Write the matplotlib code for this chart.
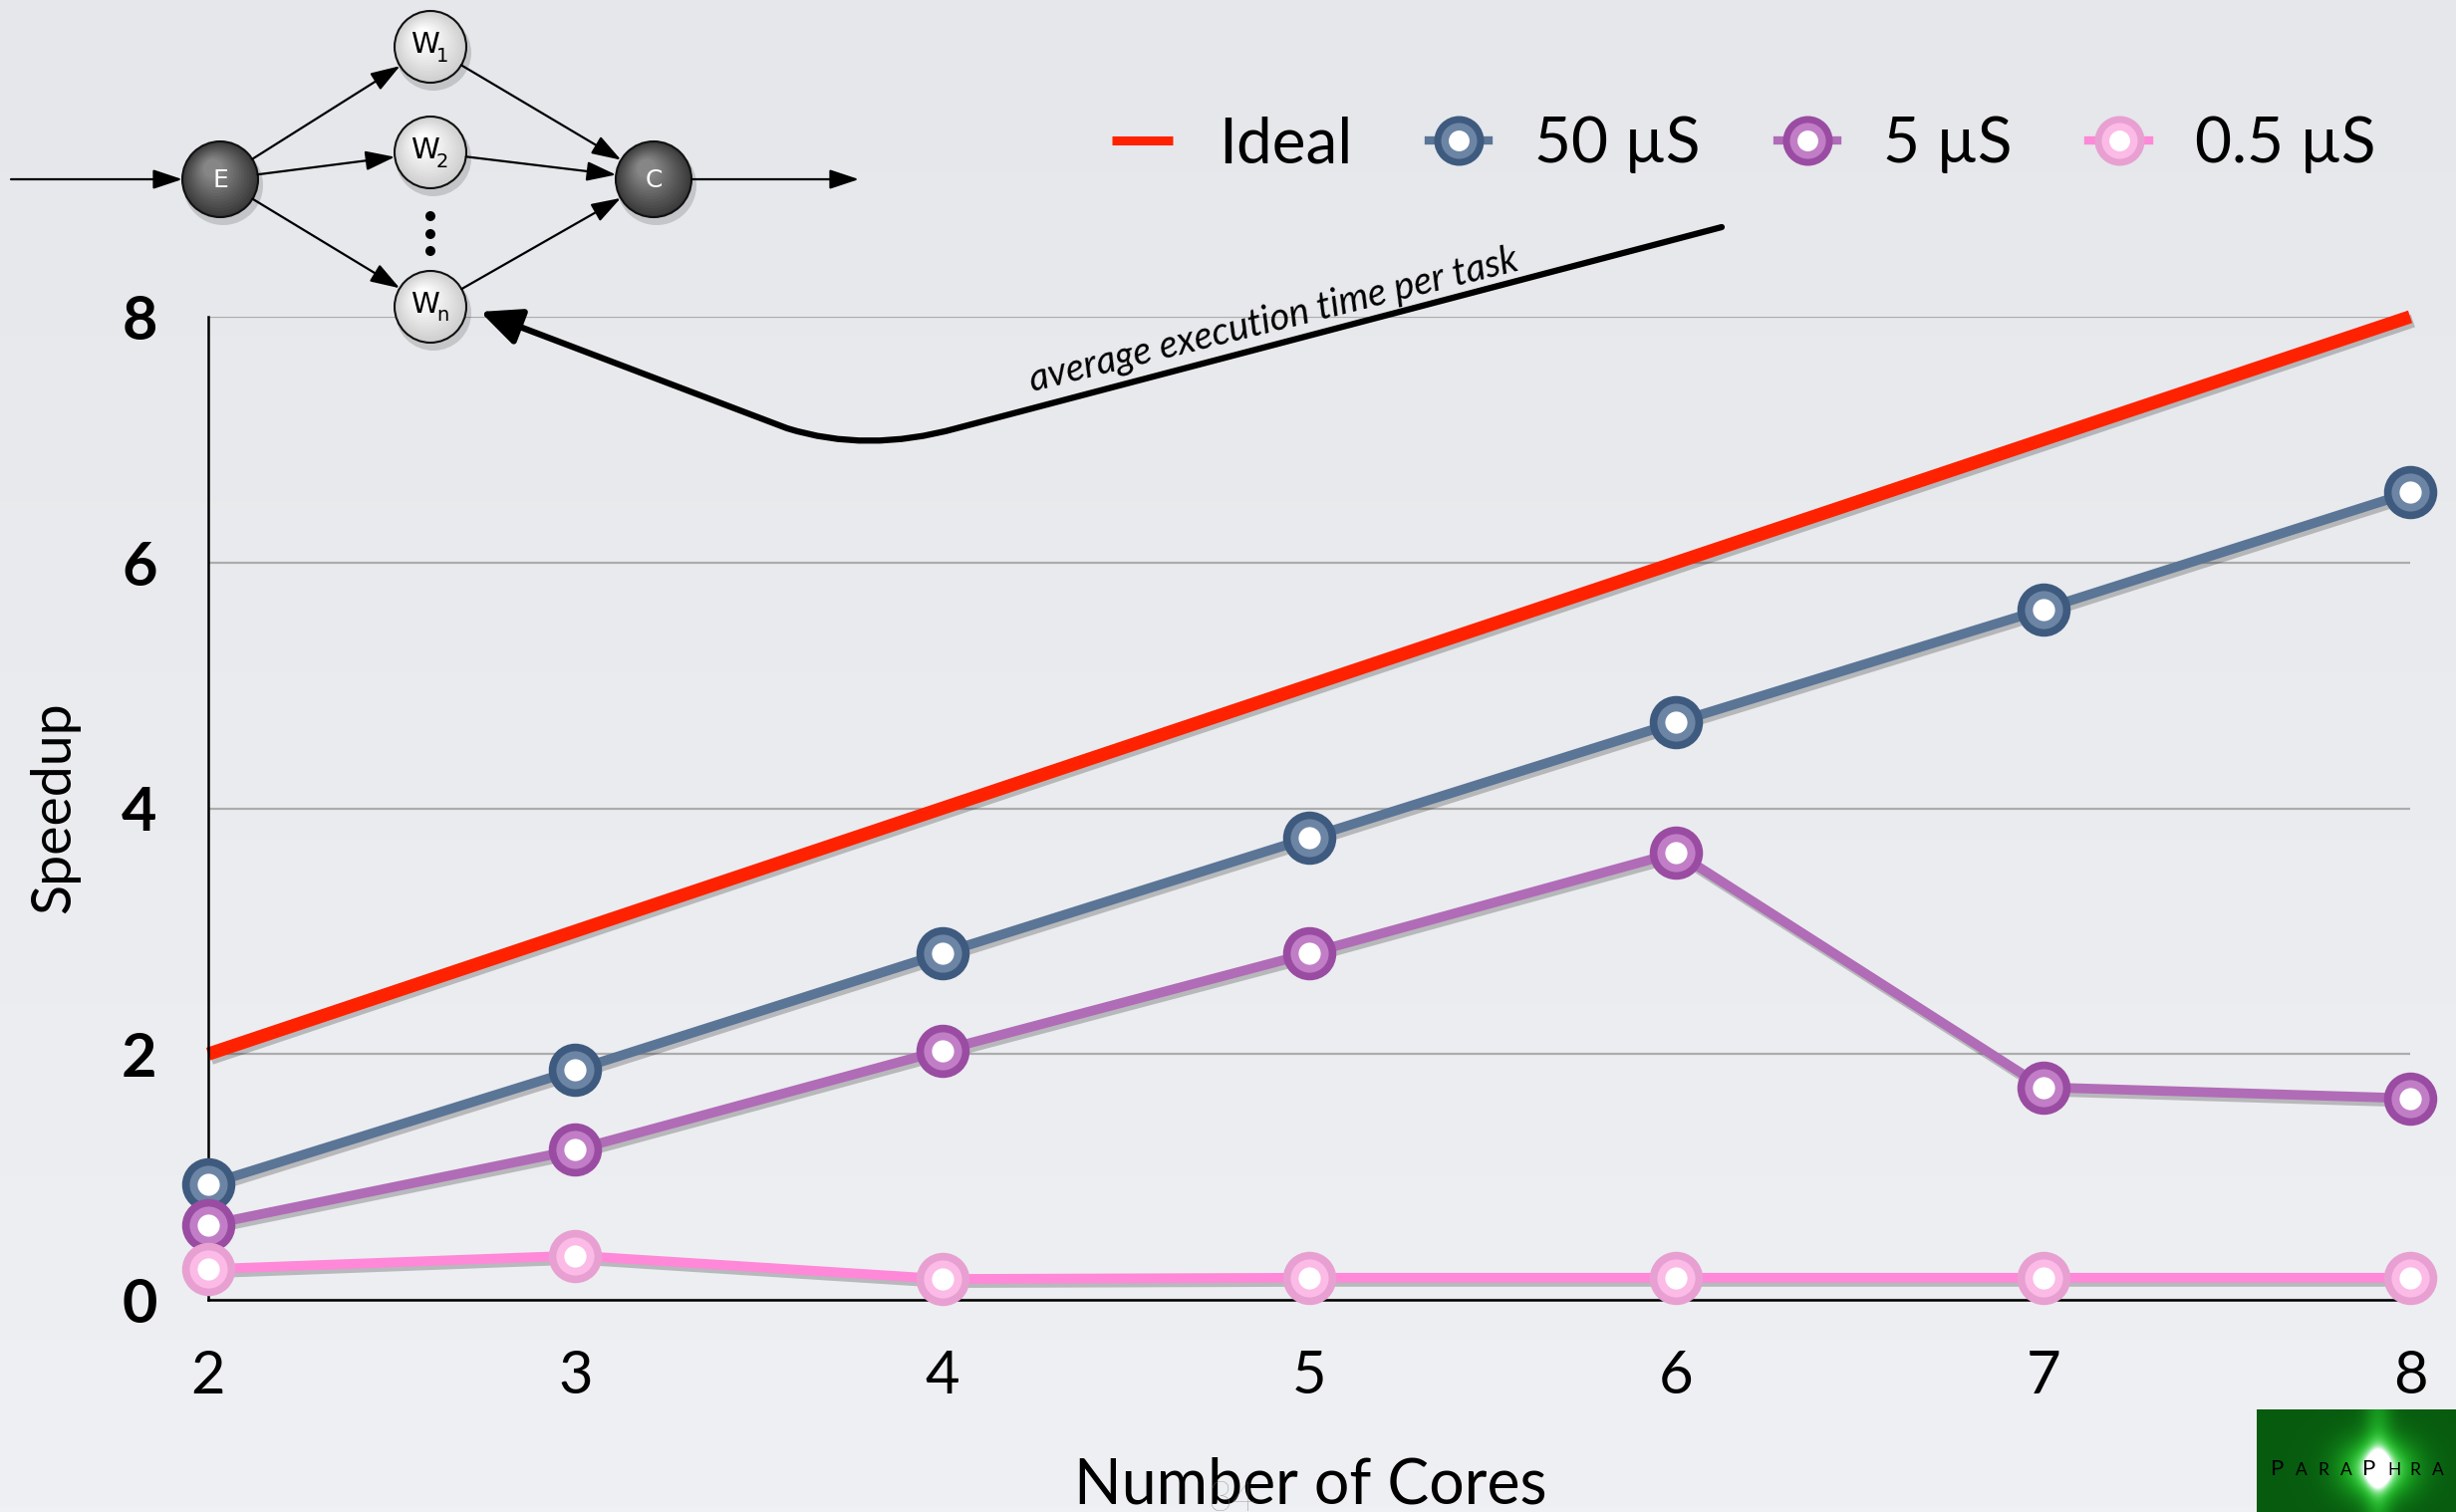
import numpy as np
import matplotlib
matplotlib.use('Agg')
import matplotlib.pyplot as plt
import matplotlib.patheffects as pe
from matplotlib.lines import Line2D
from matplotlib.legend_handler import HandlerTuple
from matplotlib.patches import Circle, FancyArrowPatch, ArrowStyle
from matplotlib.path import Path
from matplotlib.colors import LinearSegmentedColormap

plt.rcParams['font.family'] = ['Lato', 'DejaVu Sans']

# speedup measured for each task grain
cores = [2, 3, 4, 5, 6, 7, 8]
ideal = [2, 3, 4, 5, 6, 7, 8]
speedup_50us = [0.94, 1.87, 2.82, 3.76, 4.70, 5.62, 6.57]
speedup_5us = [0.61, 1.22, 2.03, 2.82, 3.64, 1.73, 1.64]
speedup_05us = [0.25, 0.36, 0.17, 0.18, 0.18, 0.18, 0.18]
series_labels = ['Ideal', '50 µS', '5 µS', '0.5 µS']
x_ticks = [2, 3, 4, 5, 6, 7, 8]
y_ticks = [0, 2, 4, 6, 8]

# line colour, ring colour, marker fill
styles = {
    '50 µS': ('#5a7596', '#3e5a7f', '#6c85a5'),
    '5 µS': ('#b06cb6', '#9a4ca2', '#c17ec6'),
    '0.5 µS': ('#ff88d8', '#e7a0d1', '#fbbbe6'),
}

W, H = 2465, 1518
fig = plt.figure(figsize=(W / 100, H / 100), dpi=100)

# slide background
ax_bg = fig.add_axes([0, 0, 1, 1], zorder=-10)
grad = np.linspace(0, 1, 256).reshape(-1, 1)
bg_cmap = LinearSegmentedColormap.from_list('bg', ['#e5e7ea', '#eff0f3'])
ax_bg.imshow(grad, aspect='auto', cmap=bg_cmap, extent=[0, 1, 0, 1])
ax_bg.axis('off')

# main chart
ax = fig.add_axes([209 / W, 1 - 1305 / H, (2419 - 209) / W, (1305 - 318) / H], zorder=1)
ax.set_facecolor('none')
ax.set_xlim(2, 8)
ax.set_ylim(0, 8)
for s in ['top', 'right']:
    ax.spines[s].set_visible(False)
for s in ['left', 'bottom']:
    ax.spines[s].set_linewidth(1.8)
    ax.spines[s].set_color('black')
ax.yaxis.grid(True, color='#acacac', lw=1.6)
ax.set_axisbelow(True)
ax.set_xticks(x_ticks, labels=[str(v) for v in x_ticks], fontsize=43)
ax.set_yticks(y_ticks, labels=[str(v) for v in y_ticks], fontsize=44, fontweight='bold')
ax.tick_params(length=0)
ax.tick_params(axis='x', pad=36)
ax.tick_params(axis='y', pad=37)

shadow = [pe.SimpleLineShadow(offset=(2, -3), alpha=0.22, shadow_color='k'), pe.Normal()]

ax.plot(cores, ideal, color='#ff2200', lw=9.5, solid_capstyle='butt',
        clip_on=False, zorder=2, path_effects=shadow)

series = [speedup_50us, speedup_5us, speedup_05us]
for i, (name, vals) in enumerate(zip(series_labels[1:], series)):
    line_c, ring_c, face_c = styles[name]
    z = 3 + i
    ax.plot(cores, vals, color=line_c, lw=7, solid_joinstyle='round',
            clip_on=False, zorder=z, path_effects=shadow)
    ax.plot(cores, vals, ls='none', marker='o', ms=33, mfc=face_c, mec=ring_c,
            mew=5.5, clip_on=False, zorder=z + 0.1)
    ax.plot(cores, vals, ls='none', marker='o', ms=16, mfc='white', mec='none',
            clip_on=False, zorder=z + 0.2)

# legend
handles = [Line2D([], [], color='#ff2200', lw=6.5, solid_capstyle='butt')]
for name in series_labels[1:]:
    line_c, ring_c, face_c = styles[name]
    ring = Line2D([], [], color=line_c, lw=6, marker='o', ms=31, mfc=face_c,
                  mec=ring_c, mew=5)
    dot = Line2D([], [], ls='none', marker='o', ms=15, mfc='white', mec='none')
    handles.append((ring, dot))
fig.legend(handles, series_labels, handler_map={tuple: HandlerTuple(ndivide=1)},
           ncol=4, loc='center left', bbox_to_anchor=(1116 / W, 1 - 145 / H),
           frameon=False, prop={'family': 'Lato', 'size': 46}, handlelength=0.95,
           handletextpad=0.72, columnspacing=1.2, borderpad=0, borderaxespad=0)

fig.text(55 / W, 1 - 811 / H, 'Speedup', rotation=90, ha='center', va='center', fontsize=40)
fig.text(1315 / W, 1 - 1509 / H, 'Number of Cores', ha='center', va='baseline', fontsize=45)
fig.text(1237 / W, 1 - 1487 / H, '34', ha='center', va='top', fontsize=30,
         color='#777777', alpha=0.8, fontweight='light', zorder=8)

# farm diagram and annotation, drawn in pixel coordinates
ax_d = fig.add_axes([0, 0, 1, 1], zorder=5)
ax_d.set_xlim(0, W)
ax_d.set_ylim(H, 0)
ax_d.axis('off')
ax_d.set_facecolor('none')

nodes = {'E': (221, 180, 38), 'W1': (432, 47, 36), 'W2': (432, 153, 36),
         'Wn': (432, 308, 36), 'C': (656, 180, 38)}
narrow = ['Liberation Sans Narrow', 'DejaVu Sans']


def shaded_node(x, y, r, base, light):
    ax_d.add_patch(Circle((x + 3, y + 6), r + 2, color='k', alpha=0.15, lw=0))
    c0 = np.array(matplotlib.colors.to_rgb(base))
    c1 = np.array(matplotlib.colors.to_rgb(light))
    n = 14
    for k in range(n):
        f = k / n
        ax_d.add_patch(Circle((x - 0.2 * r * f, y - 0.3 * r * f), r * (1 - 0.8 * f),
                              color=c0 + (c1 - c0) * f, lw=0))
    ax_d.add_patch(Circle((x, y), r, fill=False, ec='#111111', lw=1.5))


def edge(p0, p1, r0=0.0, r1=0.0):
    p0 = np.array(p0, float)
    p1 = np.array(p1, float)
    u = (p1 - p0) / np.hypot(*(p1 - p0))
    ax_d.annotate('', xy=p1 - u * r1, xytext=p0 + u * r0,
                  arrowprops=dict(arrowstyle='-|>,head_length=0.9,head_width=0.3',
                                  lw=1.6, color='k', shrinkA=0, shrinkB=0,
                                  mutation_scale=20))


ex, ey, er = nodes['E']
cx, cy, cr = nodes['C']
edge((11, 180), (ex, ey), 0, er)
for w in ['W1', 'W2', 'Wn']:
    wx, wy, wr = nodes[w]
    edge((ex, ey), (wx, wy), er, wr)
    edge((wx, wy), (cx, cy), wr, cr)
edge((cx, cy), (862, 180), cr, 0)

for name, (x, y, r) in nodes.items():
    if name in ('E', 'C'):
        shaded_node(x, y, r, '#3a3a3a', '#8c8c8c')
        ax_d.text(x, y + 1, name, ha='center', va='center', color='white',
                  fontsize=18, family=narrow)
    else:
        shaded_node(x, y, r, '#cfcfcf', '#ffffff')
        ax_d.text(x - 6, y - 2, 'W', ha='center', va='center', color='black',
                  fontsize=21, family=narrow)
        ax_d.text(x + 12, y + 9, name[1], ha='center', va='center', color='black',
                  fontsize=14, family=narrow)

for dy in (217, 235, 252):
    ax_d.add_patch(Circle((432, dy), 5, color='black', lw=0))

verts = [(1728, 228), (960, 430), (870, 455), (790, 430), (482, 313)]
codes = [Path.MOVETO, Path.LINETO, Path.CURVE3, Path.CURVE3, Path.LINETO]
ax_d.add_patch(FancyArrowPatch(path=Path(verts, codes),
                               arrowstyle=ArrowStyle('-|>', head_length=0.55, head_width=0.25),
                               mutation_scale=45, lw=4.5, color='black'))
ax_d.text(1278, 322, 'average execution time per task', rotation=14,
          rotation_mode='anchor', ha='center', va='center', fontsize=27.5, style='italic')

# ParaPhra logo
ax_l = fig.add_axes([2265 / W, 0, 200 / W, 103 / H], zorder=6)
gx, gy = np.meshgrid(np.linspace(0, 1, 200), np.linspace(0, 1, 103))
glow = np.exp(-((gx - 0.61) / 0.18) ** 2 - ((gy - 0.58) / 0.28) ** 2)
beam = 0.35 * np.exp(-((gx - 0.61) / 0.07) ** 2)
g = np.clip(glow + beam, 0, 1)
img = np.zeros((103, 200, 3))
img[..., 0] = 0.03 + 0.15 * g + 0.85 * g ** 5
img[..., 1] = 0.36 + 0.62 * g + 0.02 * g ** 5
img[..., 2] = 0.06 + 0.15 * g + 0.85 * g ** 5
ax_l.imshow(np.clip(img, 0, 1), aspect='auto', extent=[0, 1, 0, 1])
ax_l.axis('off')
lx = 0.07
for ch, big in zip('PARAPHRA', [1, 0, 0, 0, 1, 0, 0, 0]):
    ax_l.text(lx, 0.36, ch, fontsize=16 if big else 12.5, color='black',
              ha='left', va='baseline', transform=ax_l.transAxes)
    lx += 0.125 if big else 0.112

fig.savefig('out.png', dpi=100)
